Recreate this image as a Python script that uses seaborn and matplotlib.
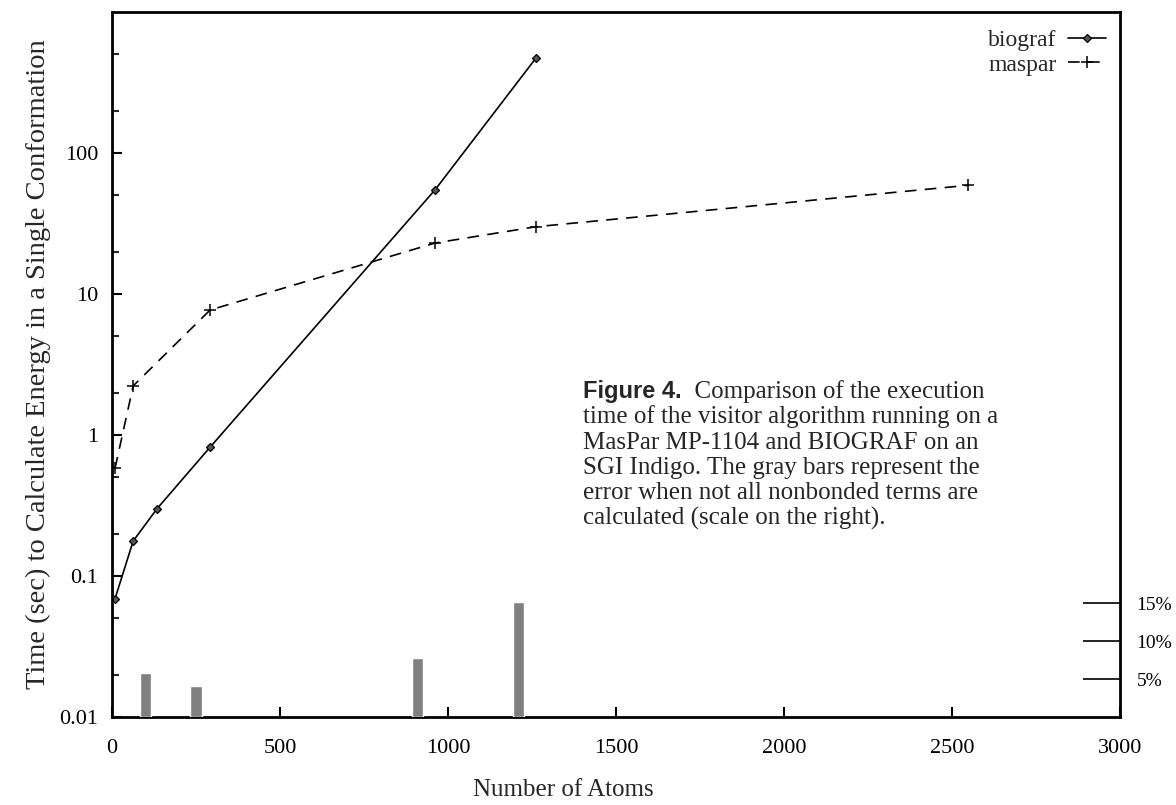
import numpy as np
import pandas as pd
import matplotlib
matplotlib.use("Agg")
import matplotlib.pyplot as plt
import seaborn as sns
from matplotlib.ticker import FixedLocator, FixedFormatter, NullFormatter

# data
biograf_atoms = [9, 63, 134, 292, 962, 1262]
biograf_time = [0.069, 0.177, 0.30, 0.82, 55, 472]
maspar_atoms = [9, 63, 292, 962, 1262, 2548]
maspar_time = [0.58, 2.23, 7.7, 23, 30, 59]
# error bars (right scale, percent)
err_atoms = [100, 250, 910, 1210]
err_pct = [5.8, 4.1, 7.8, 15.1]

ytick_vals = [0.01, 0.1, 1, 10, 100]
ytick_labels = ["0.01", "0.1", "1", "10", "100"]
pct_ticks = [5, 10, 15]
pct_labels = ["5%", "10%", "15%"]

caption_lines = [
    "time of the visitor algorithm running on a",
    "MasPar MP-1104 and BIOGRAF on an",
    "SGI Indigo. The gray bars represent the",
    "error when not all nonbonded terms are",
    "calculated (scale on the right).",
]

sns.set_theme(style="white")
plt.rcParams["font.family"] = ["Liberation Serif", "DejaVu Serif"]

fig = plt.figure(figsize=(11.76, 8.05), dpi=100)
ax = fig.add_axes([112 / 1176, 1 - 717 / 805, 1008 / 1176, 705 / 805])

df_b = pd.DataFrame({"atoms": biograf_atoms, "time": biograf_time})
df_m = pd.DataFrame({"atoms": maspar_atoms, "time": maspar_time})

sns.lineplot(data=df_b, x="atoms", y="time", ax=ax, color="black", lw=1.2,
             marker="D", markersize=4.2, markeredgewidth=0.9,
             markeredgecolor="black", markerfacecolor="#555555", legend=False)
sns.lineplot(data=df_m, x="atoms", y="time", ax=ax, color="black", lw=1.2,
             marker="+", markersize=8, markeredgewidth=1.1,
             markeredgecolor="black", legend=False)
line_b, line_m = ax.lines[0], ax.lines[1]
line_m.set_dashes((7, 5))

ax.set_yscale("log")
ax.set_xlim(0, 3000)
ax.set_ylim(0.01, 1000)
ax.xaxis.set_major_locator(FixedLocator([0, 500, 1000, 1500, 2000, 2500, 3000]))
ax.yaxis.set_major_locator(FixedLocator(ytick_vals))
ax.yaxis.set_major_formatter(FixedFormatter(ytick_labels))
minors = [m * 10.0 ** e for e in range(-2, 3) for m in (2, 5)]
ax.yaxis.set_minor_locator(FixedLocator(minors))
ax.yaxis.set_minor_formatter(NullFormatter())
ax.tick_params(axis="both", which="major", direction="in", length=7, width=1.5,
               labelsize=16, colors="black")
ax.tick_params(axis="y", which="major", pad=10, left=True)
ax.tick_params(axis="x", which="major", pad=16, bottom=True)
ax.tick_params(axis="y", which="minor", direction="in", length=5, width=1.5, left=True)
for s in ax.spines.values():
    s.set_linewidth(2)
    s.set_color("black")

ax.set_xlabel("Number of Atoms", fontsize=18)
ax.xaxis.set_label_coords((563 - 112) / 1008, -(790 - 717) / 705)
ax.xaxis.label.set_va("center")
ax.set_ylabel("Time (sec) to Calculate Energy in a Single Conformation", fontsize=20.5)
ax.yaxis.set_label_coords(-(112 - 38) / 1008, 0.5)
ax.yaxis.label.set_va("center")

leg = ax.legend([line_b, line_m], ["biograf", "maspar"], loc="upper right",
                frameon=False, markerfirst=False, fontsize=17,
                handlelength=1.6, handletextpad=0.5, borderaxespad=0.2,
                labelspacing=0.12, bbox_to_anchor=(1.0, 0.995))

# right scale for the error bars
ax2 = ax.twinx()
ax2.bar(err_atoms, err_pct, width=33, color="#808080", zorder=1)
ax2.set_ylim(0, 705 / 7.6)
ax2.set_yticks(pct_ticks)
ax2.set_yticklabels(pct_labels)
ax2.tick_params(axis="y", direction="in", length=27, width=1.2, labelsize=14,
                pad=12, right=True, colors="black")
for s in ax2.spines.values():
    s.set_visible(False)

# caption inside the plot
x0 = (583 - 112) / 1008
y0 = (717 - 398) / 705
head = ax.text(x0, y0, "Figure 4.", transform=ax.transAxes, fontsize=17,
               fontweight="bold", family=["Liberation Sans", "DejaVu Sans"],
               va="baseline", ha="left")
ax.annotate("  Comparison of the execution", xy=(1, 0), xycoords=head,
            fontsize=18, va="bottom", ha="left")
for i, line in enumerate(caption_lines):
    ax.text(x0, y0 - (i + 1) * 25.3 / 705, line, transform=ax.transAxes,
            fontsize=18, va="baseline", ha="left")

fig.savefig("out.png", dpi=100)
